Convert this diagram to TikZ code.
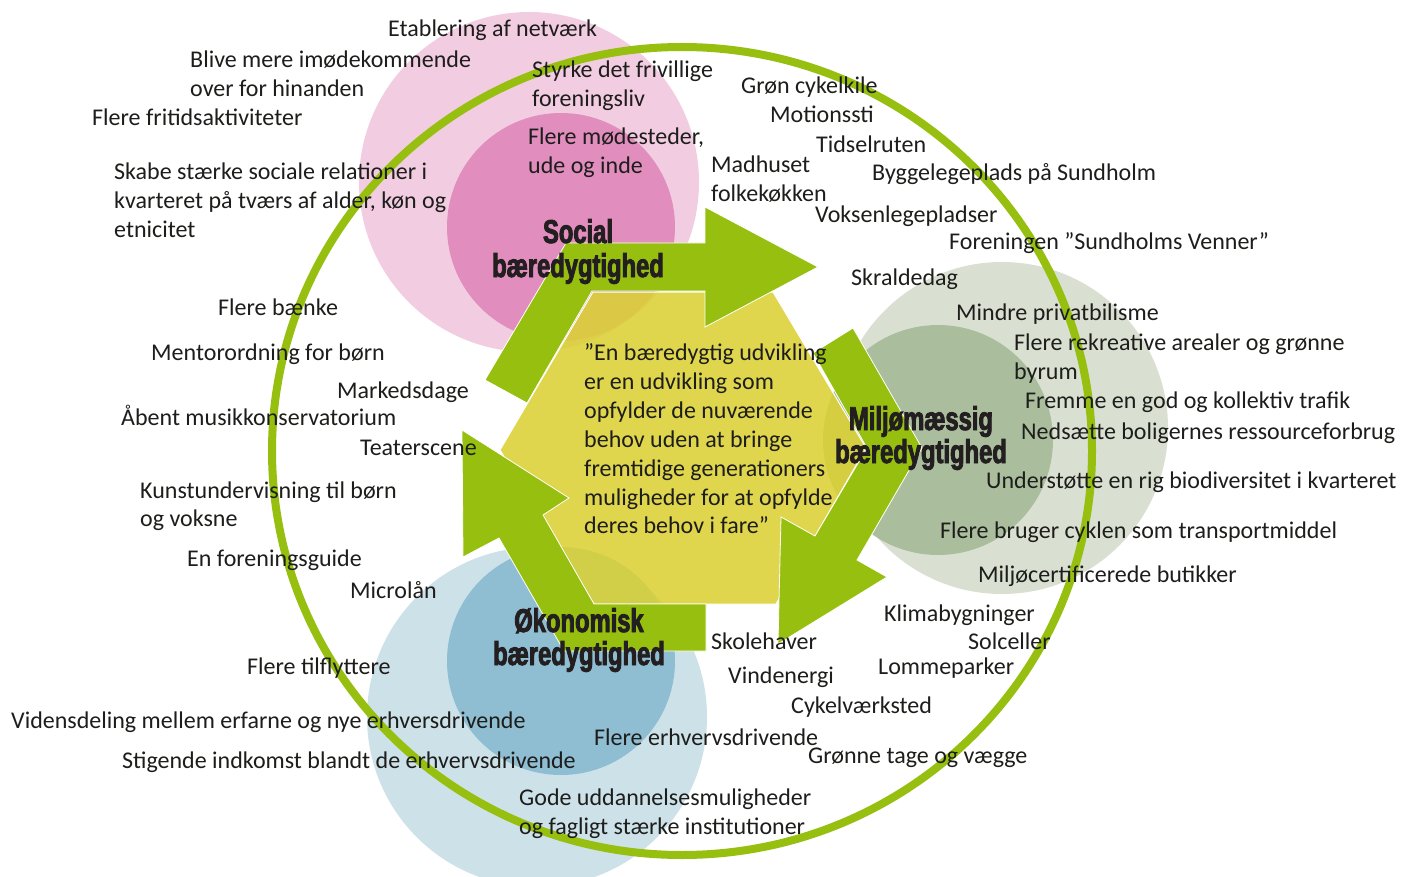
\documentclass[tikz,border=0pt]{standalone}
\usepackage{fontspec}
\setmainfont{Carlito}
\newfontfamily\catfont{Liberation Sans Bold}[FakeStretch=0.72,FakeBold=2.6]
\definecolor{pinkO}{HTML}{F2CDE1}
\definecolor{pinkI}{HTML}{E18DBD}
\definecolor{greyO}{HTML}{D9E0D1}
\definecolor{greyI}{HTML}{AABE9E}
\definecolor{blueO}{HTML}{CDE1E9}
\definecolor{blueI}{HTML}{8FBDD2}
\definecolor{yellowC}{HTML}{DBD133}
\definecolor{greenC}{HTML}{96BF0F}
\definecolor{textC}{HTML}{1D1D1B}
\definecolor{catC}{HTML}{231F20}
\tikzset{
  lbl/.style={anchor=base west, inner sep=0pt, text=textC, font=\fontsize{24}{29}\selectfont},
  cat/.style={anchor=base, inner sep=0pt, text=catC, font=\catfont\fontsize{33}{34}\selectfont},
  bigarrow/.style={fill=greenC, draw=white, line width=0.8pt},
}
\begin{document}
\begin{tikzpicture}[x=1pt,y=-1pt]
\useasboundingbox (0,0) rectangle (1407,877);
\clip (0,0) rectangle (1407,877);
\fill[white] (0,0) rectangle (1407,877);
% circles
\fill[pinkO] (529,182) circle[radius=170pt];
\fill[greyO] (1002,428) circle[radius=166pt];
\fill[blueO] (537,717) circle[radius=170pt];
\fill[pinkI] (561,227) circle[radius=114pt];
\fill[greyI] (938,440) circle[radius=115pt];
\fill[blueI] (561,661) circle[radius=114pt];
% ring
\draw[greenC, line width=8pt] (682,451) ellipse[x radius=410pt, y radius=404pt];
% hexagon
\filldraw[fill=yellowC, fill opacity=0.87, draw=white, line width=1pt]
  (593,292) -- (773,292) -- (866,448) -- (776,604) -- (594,604) -- (500,450) -- cycle;
% arrows
\filldraw[bigarrow] (485,380) -- (566,243) -- (705,243) -- (705,207) -- (818,267)
  -- (705,327) -- (705,291) -- (592,291) -- (527,403) -- cycle;
\filldraw[bigarrow] (813,353) -- (853,328) -- (922,448) -- (857,560) -- (887,577)
  -- (778,644) -- (781,517) -- (815,536) -- (867,448) -- cycle;
\filldraw[bigarrow] (706,604) -- (594,604) -- (543,515) -- (569,498) -- (462,430)
  -- (463,557) -- (499,538) -- (564,651) -- (706,651) -- cycle;
% category labels
\node[cat] (soc1) at (578,243) {Social};
\node[cat] (soc2) at (578,277) {bæredygtighed};
\node[cat] (mil1) at (921,430) {Miljømæssig};
\node[cat] (mil2) at (921,463) {bæredygtighed};
\node[cat] (oko1) at (579,632) {Økonomisk};
\node[cat] (oko2) at (579,665) {bæredygtighed};
% central quote
\node[lbl] (q1) at (584,360) {”En bæredygtig udvikling};
\node[lbl] (q2) at (584,389) {er en udvikling som};
\node[lbl] (q3) at (584,418) {opfylder de nuværende};
\node[lbl] (q4) at (584,447) {behov uden at bringe};
\node[lbl] (q5) at (584,476) {fremtidige generationers};
\node[lbl] (q6) at (584,505) {muligheder for at opfylde};
\node[lbl] (q7) at (584,533) {deres behov i fare”};
% social labels
\node[lbl] (s1) at (388,37) {Etablering af netværk};
\node[lbl] (s2) at (190,68) {Blive mere imødekommende};
\node[lbl] (s3) at (190,97) {over for hinanden};
\node[lbl] (s4) at (92,126) {Flere fritidsaktiviteter};
\node[lbl] (s5) at (114,180) {Skabe stærke sociale relationer i};
\node[lbl] (s6) at (114,209) {kvarteret på tværs af alder, køn og};
\node[lbl] (s7) at (114,237) {etnicitet};
\node[lbl] (s8) at (532,78) {Styrke det frivillige};
\node[lbl] (s9) at (532,107) {foreningsliv};
\node[lbl] (s10) at (528,145) {Flere mødesteder,};
\node[lbl] (s11) at (528,174) {ude og inde};
% top right labels
\node[lbl] (t1) at (741,94) {Grøn cykelkile};
\node[lbl] (t2) at (770,123) {Motionssti};
\node[lbl] (t3) at (816,153) {Tidselruten};
\node[lbl] (t4) at (711,173) {Madhuset};
\node[lbl] (t5) at (711,202) {folkekøkken};
\node[lbl] (t6) at (872,181) {Byggelegeplads på Sundholm};
\node[lbl] (t7) at (815,223) {Voksenlegepladser};
\node[lbl] (t8) at (949,250) {Foreningen ”Sundholms Venner”};
\node[lbl] (t9) at (851,285) {Skraldedag};
% environment labels
\node[lbl] (m1) at (956,320) {Mindre privatbilisme};
\node[lbl] (m2) at (1014,350) {Flere rekreative arealer og grønne};
\node[lbl] (m3) at (1014,379) {byrum};
\node[lbl] (m4) at (1025,408) {Fremme en god og kollektiv trafik};
\node[lbl] (m5) at (1021,439) {Nedsætte boligernes ressourceforbrug};
\node[lbl] (m6) at (986,488) {Understøtte en rig biodiversitet i kvarteret};
\node[lbl] (m7) at (940,538) {Flere bruger cyklen som transportmiddel};
\node[lbl] (m8) at (978,582) {Miljøcertificerede butikker};
% bottom right labels
\node[lbl] (b1) at (884,621) {Klimabygninger};
\node[lbl] (b2) at (968,649) {Solceller};
\node[lbl] (b3) at (878,674) {Lommeparker};
\node[lbl] (b4) at (711,649) {Skolehaver};
\node[lbl] (b5) at (728,683) {Vindenergi};
\node[lbl] (b6) at (791,713) {Cykelværksted};
\node[lbl] (b7) at (594,745) {Flere erhvervsdrivende};
\node[lbl] (b8) at (808,763) {Grønne tage og vægge};
% economic labels
\node[lbl] (e1) at (519,805) {Gode uddannelsesmuligheder};
\node[lbl] (e2) at (519,834) {og fagligt stærke institutioner};
\node[lbl] (e3) at (122,768) {Stigende indkomst blandt de erhvervsdrivende};
\node[lbl] (e4) at (11,728) {Vidensdeling mellem erfarne og nye erhversdrivende};
\node[lbl] (e5) at (247,674) {Flere tilflyttere};
\node[lbl] (e6) at (350,598) {Microlån};
% left labels
\node[lbl] (l1) at (187,566) {En foreningsguide};
\node[lbl] (l2) at (140,498) {Kunstundervisning til børn};
\node[lbl] (l3) at (140,526) {og voksne};
\node[lbl] (l4) at (360,455) {Teaterscene};
\node[lbl] (l5) at (121,425) {Åbent musikkonservatorium};
\node[lbl] (l6) at (337,398) {Markedsdage};
\node[lbl] (l7) at (151,360) {Mentorordning for børn};
\node[lbl] (l8) at (218,315) {Flere bænke};
\end{tikzpicture}
\end{document}
